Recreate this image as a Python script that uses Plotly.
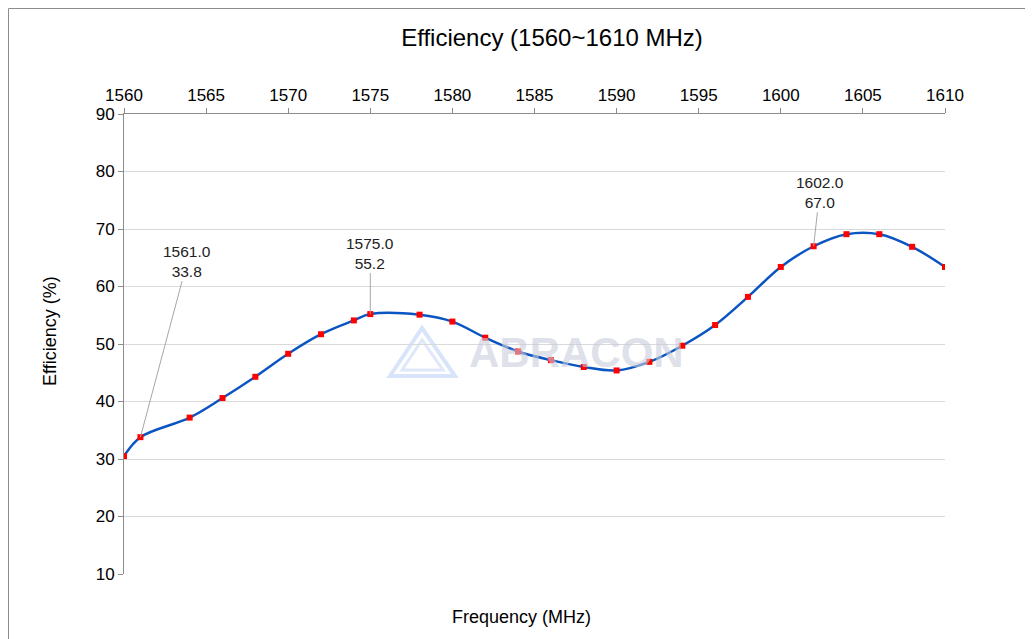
import plotly.graph_objects as go

freq_mhz = [1560, 1561, 1564, 1566, 1568, 1570, 1572, 1574, 1575, 1578, 1580,
            1582, 1584, 1586, 1588, 1590, 1592, 1594, 1596, 1598, 1600, 1602,
            1604, 1606, 1608, 1610]
efficiency_pct = [30.5, 33.8, 37.2, 40.6, 44.3, 48.3, 51.7, 54.1, 55.2, 55.1, 53.9,
                  51.1, 48.7, 47.2, 46.0, 45.4, 46.9, 49.7, 53.3, 58.2, 63.4, 67.0,
                  69.1, 69.1, 66.9, 63.4]
x_ticks = [1560, 1565, 1570, 1575, 1580, 1585, 1590, 1595, 1600, 1605, 1610]
y_ticks = [10, 20, 30, 40, 50, 60, 70, 80, 90]
labelled_points = [(1561, 33.8, 47, -176), (1575, 55.2, 0, -61), (1602, 67.0, 6, -54)]

FONT = "Liberation Sans, Arial, sans-serif"
OFF = 8  # page body margin offset
L, R, T, B = 124 - OFF, 945 - OFF, 114 - OFF, 574 - OFF
PW, PH = R - L, B - T

fig = go.Figure()
fig.add_trace(go.Scatter(
    x=freq_mhz, y=efficiency_pct, mode="lines+markers",
    line=dict(color="#0B55C3", width=2.5, shape="spline", smoothing=1.0),
    marker=dict(symbol="square", size=6, color="#FF0000"),
    showlegend=False, hoverinfo="x+y",
))


def px2paper(px, py):
    return (px - OFF - L) / PW, (B - (py - OFF)) / PH


annotations = []
for fx, fy, ax, ay in labelled_points:
    annotations.append(dict(
        x=fx, y=fy, xref="x", yref="y", text=f"{fx:.1f}<br>{fy:.1f}",
        showarrow=True, arrowhead=0, arrowwidth=1, arrowcolor="#A6A6A6",
        ax=ax, ay=ay, font=dict(family=FONT, size=15.5, color="#222"),
        align="center",
    ))

wx, wy = px2paper(576, 352)
annotations.append(dict(
    x=wx, y=wy, xref="paper", yref="paper",
    text="<b>ABRACON</b>", showarrow=False,
    font=dict(family=FONT, size=42, color="rgba(200,205,218,0.6)"),
    xanchor="center", yanchor="middle",
))
fx_, fy_ = px2paper(521, 617)
annotations.append(dict(
    x=fx_, y=fy_, xref="paper", yref="paper",
    text="Frequency (MHz)", showarrow=False,
    font=dict(family=FONT, size=18, color="#000"), xanchor="center", yanchor="middle",
))
ex, ey = px2paper(50, 331)
annotations.append(dict(
    x=ex, y=ey, xref="paper", yref="paper",
    text="Efficiency (%)", showarrow=False, textangle=-90,
    font=dict(family=FONT, size=18, color="#000"), xanchor="center", yanchor="middle",
))


def path(pts):
    pp = [px2paper(*p) for p in pts]
    return "M " + " L ".join(f"{x},{y}" for x, y in pp) + " Z"


# outer frame drawn at the figure's own top-left edge
bx0, by0 = px2paper(OFF + 0.5, OFF + 0.5)
bx1, _ = px2paper(1045, OFF + 0.5)
_, by1 = px2paper(OFF + 0.5, 650)
shapes = [
    dict(type="path", xref="paper", yref="paper",
         path=path([(390, 376), (422, 328), (455, 376)]),
         line=dict(color="rgba(190,210,245,0.6)", width=4), layer="below"),
    dict(type="path", xref="paper", yref="paper",
         path=path([(402, 370), (422, 340), (443, 370)]),
         line=dict(color="rgba(190,210,245,0.5)", width=3), layer="below"),
    dict(type="line", xref="paper", yref="paper", x0=bx0, y0=by0, x1=bx1, y1=by0,
         line=dict(color="#8C8C8C", width=1)),
    dict(type="line", xref="paper", yref="paper", x0=bx0, y0=by0, x1=bx0, y1=by1,
         line=dict(color="#8C8C8C", width=1)),
]

fig.update_layout(
    width=1033, height=639,
    margin=dict(l=L, r=1033 - R, t=T, b=639 - B),
    paper_bgcolor="white", plot_bgcolor="white",
    font=dict(family=FONT, size=17, color="#000"),
    title=dict(text="Efficiency (1560~1610 MHz)", x=(552 - OFF) / 1033, xanchor="center",
               y=1 - (38 - OFF) / 639, yanchor="middle",
               font=dict(family=FONT, size=24, color="#000")),
    xaxis=dict(side="top", range=[1560, 1610], tickvals=x_ticks,
               showgrid=False, zeroline=False,
               showline=True, linecolor="#8C8C8C", linewidth=1,
               ticks="outside", ticklen=5, tickcolor="#8C8C8C",
               tickfont=dict(family=FONT, size=17, color="#000")),
    yaxis=dict(range=[10, 90], tickvals=y_ticks,
               showgrid=True, gridcolor="#D9D9D9", gridwidth=1, zeroline=False,
               showline=True, linecolor="#8C8C8C", linewidth=1,
               ticks="outside", ticklen=5, tickcolor="#8C8C8C",
               tickfont=dict(family=FONT, size=17, color="#000")),
    annotations=annotations, shapes=shapes,
)

fig.write_html("out.html")
